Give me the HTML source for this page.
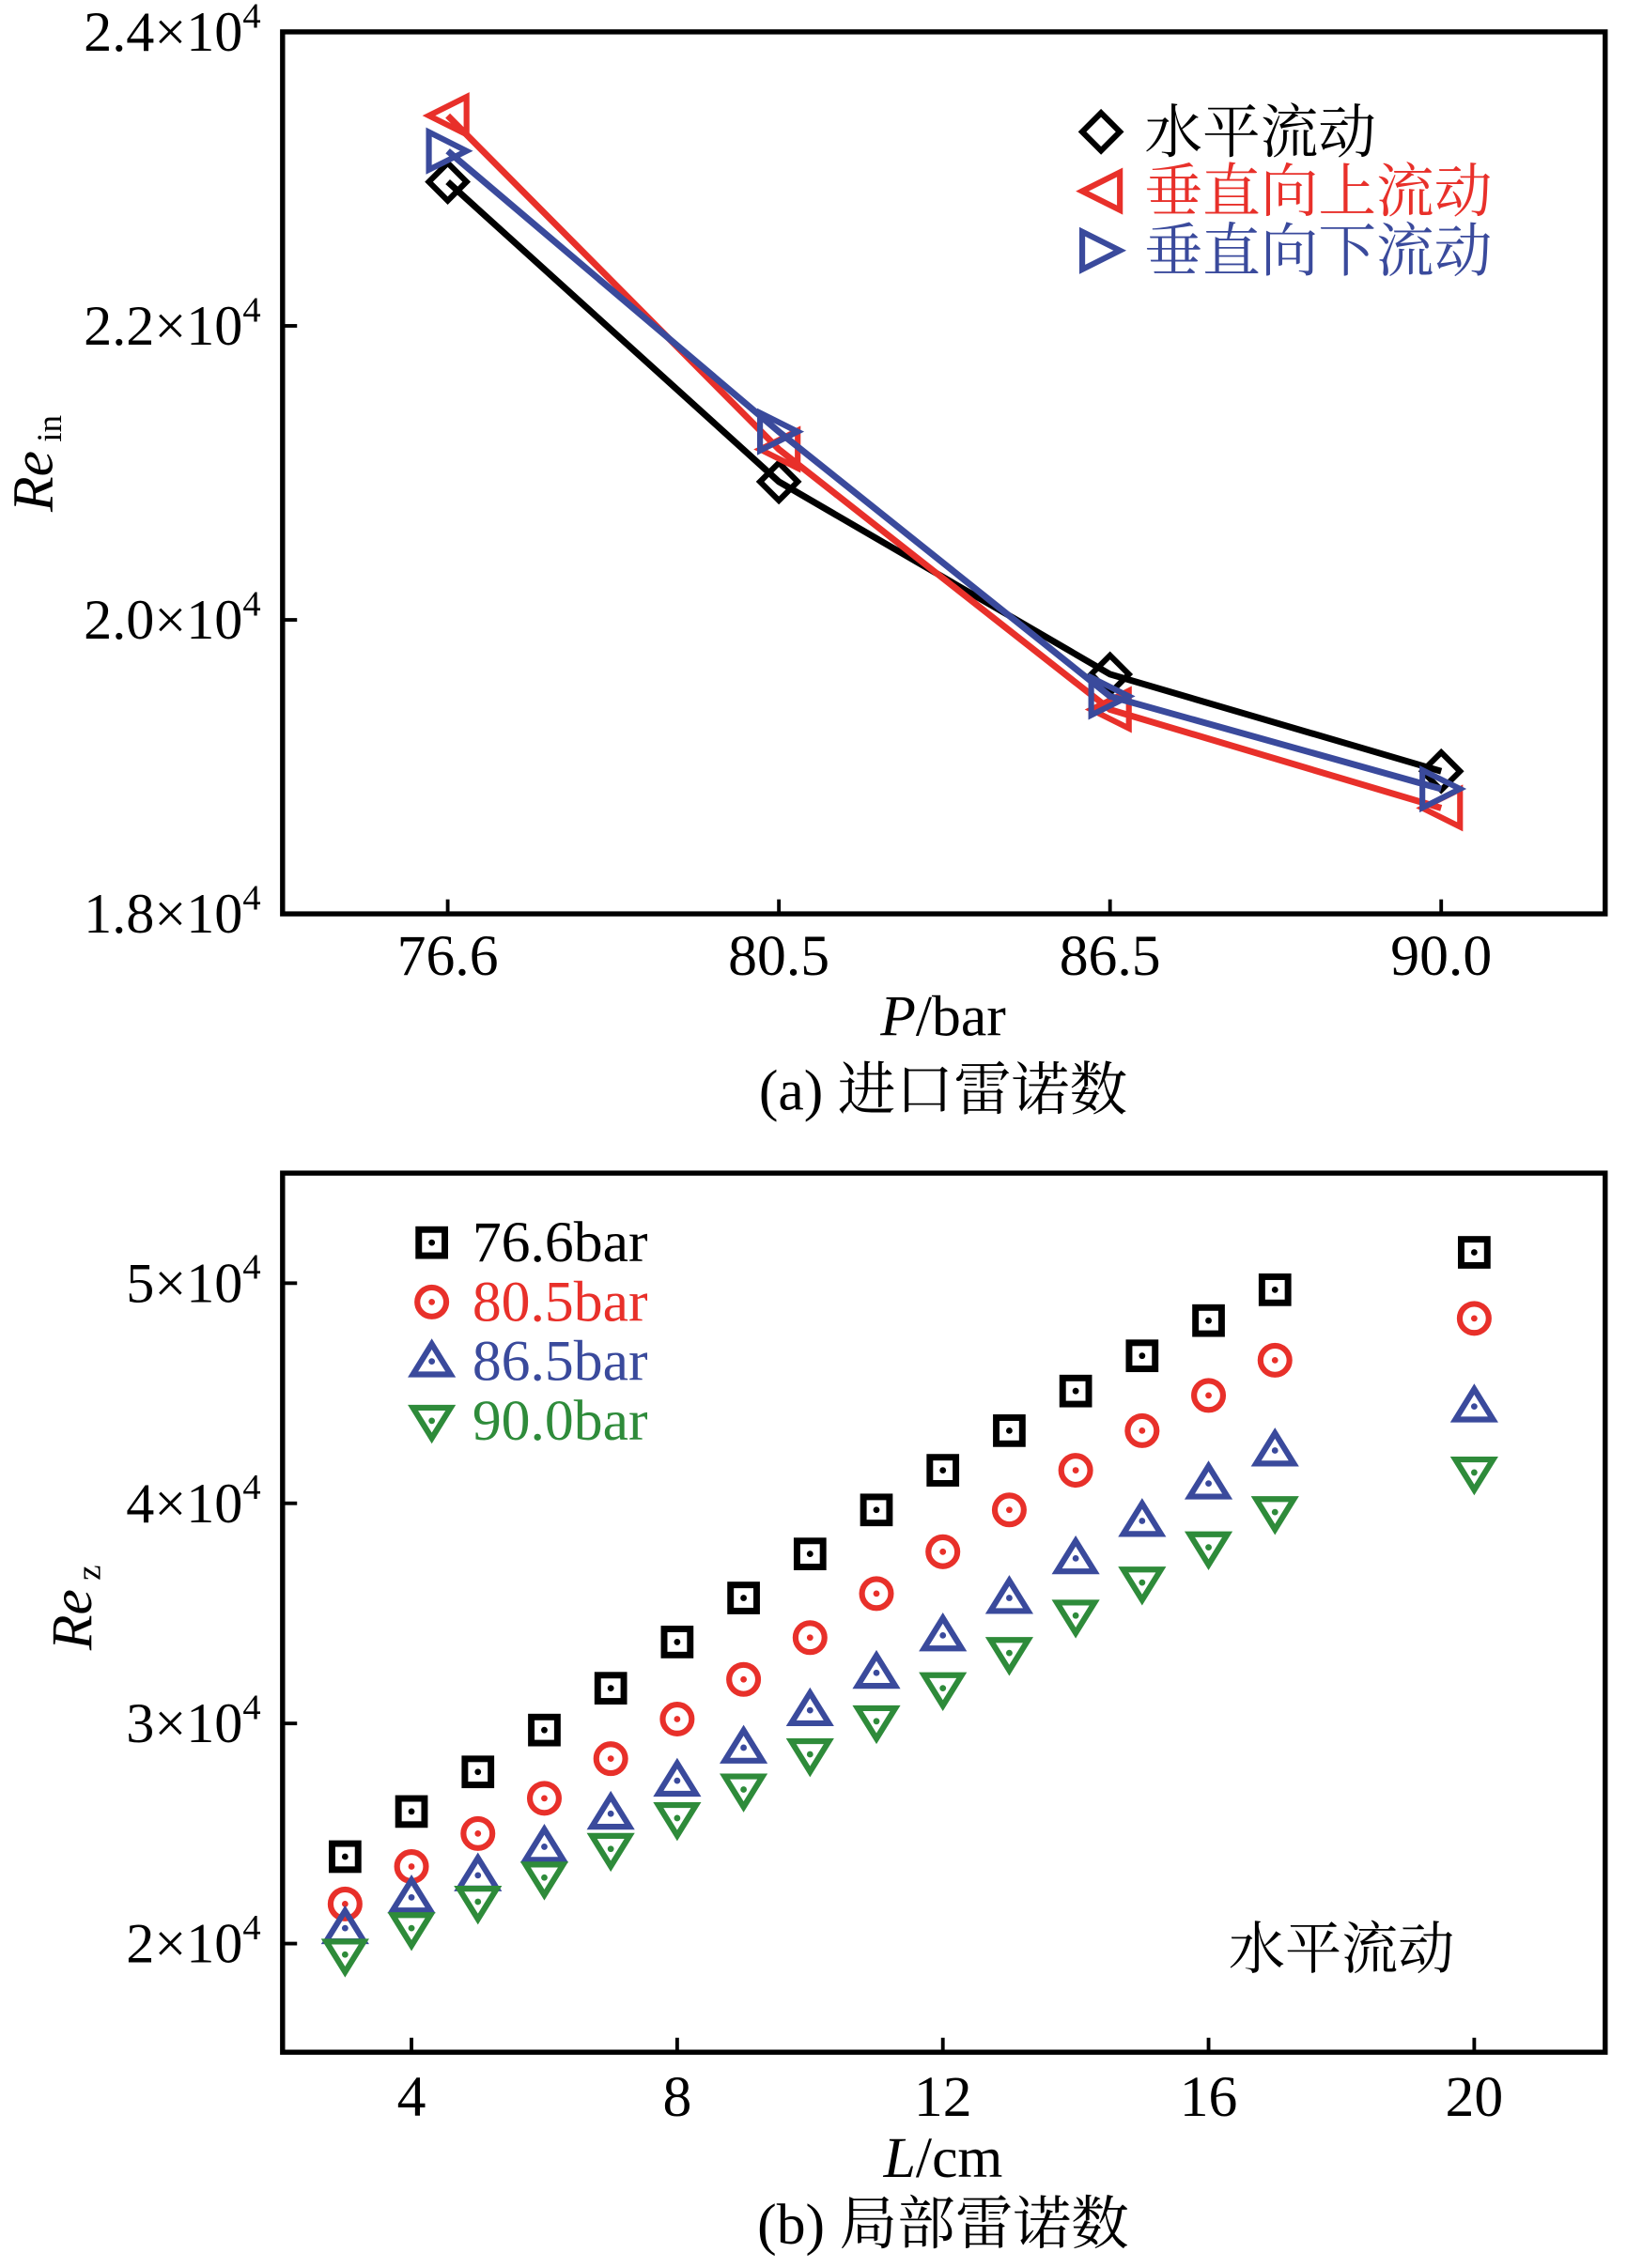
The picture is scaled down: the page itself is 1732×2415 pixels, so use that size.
<!DOCTYPE html>
<html><head><meta charset="utf-8"><style>
html,body{margin:0;padding:0;background:#fff;}
svg{display:block;}
text{font-family:"Liberation Serif","Noto Serif CJK SC","Noto Sans CJK SC",serif;}
</style></head><body>
<svg id="fig" width="1732" height="2415" viewBox="0 0 1123 1566" xmlns="http://www.w3.org/2000/svg">
<g id="chartA"></g>
<g id="chartB"></g>
</svg>
<script>
// ---- Chart A data ----
const catsA = ["76.6","80.5","86.5","90.0"];
const horizA = [2.298,2.094,1.963,1.897];
const upA = [2.343,2.116,1.939,1.872];
const downA = [2.319,2.128,1.948,1.885];
const yTicksA = [1.8,2.0,2.2,2.4];
const namesA = ["水平流动","垂直向上流动","垂直向下流动"];
// ---- Chart B data ----
const xB = [3,4,5,6,7,8,9,10,11,12,13,14,15,16,17,20];
const s766 = [2.395,2.60,2.78,2.97,3.16,3.37,3.57,3.77,3.97,4.15,4.33,4.51,4.67,4.83,4.97,5.14];
const s805 = [2.18,2.35,2.50,2.66,2.84,3.02,3.20,3.39,3.59,3.78,3.97,4.15,4.33,4.49,4.65,4.84];
const s865 = [2.07,2.21,2.31,2.44,2.59,2.74,2.89,3.06,3.23,3.40,3.57,3.75,3.92,4.09,4.24,4.44];
const s900 = [1.95,2.07,2.19,2.30,2.43,2.57,2.70,2.86,3.01,3.16,3.32,3.49,3.64,3.80,3.96,4.14];
const xTicksB = [4,8,12,16,20];
const yTicksB = [2,3,4,5];
const namesB = ["76.6bar","80.5bar","86.5bar","90.0bar"];

const NS="http://www.w3.org/2000/svg";
function mk(parent,tag,attrs,txt){const e=document.createElementNS(NS,tag);for(const k in attrs)e.setAttribute(k,attrs[k]);if(txt!==undefined)e.textContent=txt;parent.appendChild(e);return e;}
const RED="#e8302a",BLUE="#3a4a9c",GREEN="#2e8b3a",BLACK="#000";

// ===== Chart A =====
(function(){
const g=document.getElementById('chartA');
const L=195,R=1108,T=22,B=631;
const xs=i=>309+i*228.6;
const ys=v=>B-(v-1.8)/0.6*(B-T);
let f=mk(g,'rect',{x:L,y:T,width:R-L,height:B-T,fill:'none',stroke:'#000','stroke-width':3.5});

yTicksA.forEach(v=>{
 let t=mk(g,'line',{x1:L,x2:L+10,y1:ys(v),y2:ys(v),stroke:'#000','stroke-width':2.5});
 
 let tx=mk(g,'text',{x:180,y:ys(v)+13,'font-size':39,'text-anchor':'end'});
 
 tx.innerHTML=v.toFixed(1)+'×10<tspan dy="-16" font-size="25">4</tspan>';
});
catsA.forEach((c,i)=>{
 let t=mk(g,'line',{x1:xs(i),x2:xs(i),y1:B,y2:B-10,stroke:'#000','stroke-width':2.5});
 
 let tx=mk(g,'text',{x:xs(i),y:673,'font-size':40,'text-anchor':'middle'},c);
 
});
let yt=mk(g,'text',{transform:'translate(36,320) rotate(-90)','font-size':40,'text-anchor':'middle'});

yt.innerHTML='<tspan font-style="italic">Re</tspan><tspan font-size="24" dy="6"> in</tspan>';
let xt=mk(g,'text',{x:651,y:715,'font-size':40,'text-anchor':'middle'});

xt.innerHTML='<tspan font-style="italic">P</tspan>/bar';
let cap=mk(g,'text',{x:651,y:766,'font-size':40,'text-anchor':'middle'},'(a) 进口雷诺数');


function marker(parent,type,x,y,color){
 const s=13;let p;
 if(type==='diamond')p=`M${x},${y-s} L${x+s},${y} L${x},${y+s} L${x-s},${y} Z`;
 if(type==='left')p=`M${x-s},${y} L${x+s},${y-s} L${x+s},${y+s} Z`;
 if(type==='right')p=`M${x+s},${y} L${x-s},${y-s} L${x-s},${y+s} Z`;
 return mk(parent,'path',{d:p,fill:'none',stroke:color,'stroke-width':4});
}
const series=[[horizA,BLACK,'diamond','series-horizontal'],[upA,RED,'left','series-upward'],[downA,BLUE,'right','series-downward']];
series.forEach(([d,c,m,n])=>{
 let pl=mk(g,'polyline',{points:d.map((v,i)=>xs(i)+','+ys(v)).join(' '),fill:'none',stroke:c,'stroke-width':4.5});
 
 d.forEach((v,i)=>{let mm=marker(g,m,xs(i),ys(v),c);
  });
});
const lc=[BLACK,RED,BLUE],lm=['diamond','left','right'];
namesA.forEach((nm,i)=>{
 const y=91+i*41;
 let mm=marker(g,lm[i],760,y,lc[i]);
 
 let t=mk(g,'text',{x:790,y:y+14,'font-size':40,fill:lc[i]},nm);
 
});
})();

// ===== Chart B =====
(function(){
const g=document.getElementById('chartB');
const L=195,R=1108,T=810,B=1417;
const xs=v=>284+(v-4)*45.85;
const ys=v=>1342-(v-2)*152;
let f=mk(g,'rect',{x:L,y:T,width:R-L,height:B-T,fill:'none',stroke:'#000','stroke-width':3.5});

yTicksB.forEach(v=>{
 let t=mk(g,'line',{x1:L,x2:L+10,y1:ys(v),y2:ys(v),stroke:'#000','stroke-width':2.5});
 
 let tx=mk(g,'text',{x:180,y:ys(v)+13,'font-size':39,'text-anchor':'end'});
 
 tx.innerHTML=v+'×10<tspan dy="-16" font-size="25">4</tspan>';
});
xTicksB.forEach(v=>{
 let t=mk(g,'line',{x1:xs(v),x2:xs(v),y1:B,y2:B-10,stroke:'#000','stroke-width':2.5});
 
 let tx=mk(g,'text',{x:xs(v),y:1461,'font-size':40,'text-anchor':'middle'},v);
 
});
let yt=mk(g,'text',{transform:'translate(63,1110) rotate(-90)','font-size':40,'text-anchor':'middle'});

yt.innerHTML='<tspan font-style="italic">Re</tspan><tspan font-size="24" dy="6"> z</tspan>';
let xt=mk(g,'text',{x:651,y:1503,'font-size':40,'text-anchor':'middle'});

xt.innerHTML='<tspan font-style="italic">L</tspan>/cm';
let cap=mk(g,'text',{x:651,y:1549,'font-size':40,'text-anchor':'middle'},'(b) 局部雷诺数');

let ann=mk(g,'text',{x:926,y:1359,'font-size':39,'text-anchor':'middle'},'水平流动');


function marker(parent,type,x,y,color){
 const gg=mk(parent,'g',{});
 if(type==='square'){mk(gg,'rect',{x:x-9,y:y-9,width:18,height:18,fill:'none',stroke:color,'stroke-width':4.5});}
 if(type==='circle'){mk(gg,'circle',{cx:x,cy:y,r:10,fill:'none',stroke:color,'stroke-width':4});}
 if(type==='up'){mk(gg,'path',{d:`M${x},${y-12} L${x+13},${y+9} L${x-13},${y+9} Z`,fill:'none',stroke:color,'stroke-width':4});}
 if(type==='down'){mk(gg,'path',{d:`M${x},${y+12} L${x+13},${y-9} L${x-13},${y-9} Z`,fill:'none',stroke:color,'stroke-width':4});}
 mk(gg,'circle',{cx:x,cy:y,r:2.2,fill:color});
 return gg;
}
const series=[[s766,BLACK,'square','series-76-6bar'],[s805,RED,'circle','series-80-5bar'],[s865,BLUE,'up','series-86-5bar'],[s900,GREEN,'down','series-90-0bar']];
series.forEach(([d,c,m,n])=>{
 d.forEach((v,i)=>{let mm=marker(g,m,xs(xB[i]),ys(v),c);
  });
});
namesB.forEach((nm,i)=>{
 const y=858+i*41;const c=series[i][1];
 let mm=marker(g,series[i][2],298,y,c);
 
 let t=mk(g,'text',{x:326,y:y+13,'font-size':40,fill:c},nm);
 
});
})();
</script>
</body></html>
